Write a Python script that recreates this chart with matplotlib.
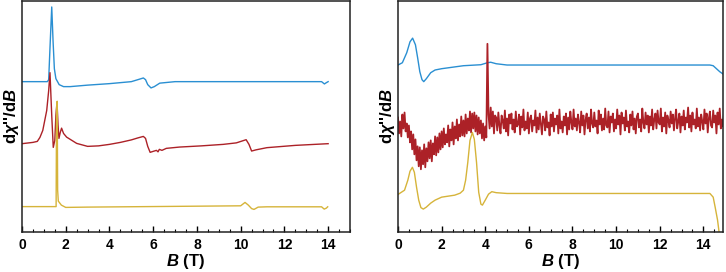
"""
EPR-style derivative spectra, two panels
"""

import numpy as np
import matplotlib
matplotlib.use('Agg')
import matplotlib.pyplot as plt
from matplotlib.ticker import MultipleLocator

# ---- left panel --------------------------------------------------------
l_blue_B = [0, 1.16, 1.22, 1.28, 1.36, 1.42, 1.48, 1.55, 1.7, 1.9, 2.2, 3.0, 4.0, 5.0, 5.3,
            5.55, 5.65, 5.75, 5.9, 6.05, 6.3, 7.0, 13.7, 13.83, 13.92, 14.0]
l_blue_y = [151, 151, 153, 185, 226, 192, 164, 154, 148, 146, 146, 147.5, 149, 151, 153,
            154.7, 153, 148, 144.7, 146, 149.5, 151, 151, 148.7, 150, 151]

l_red_B = [0, 0.5, 0.7, 0.82, 0.95, 1.13, 1.22, 1.28, 1.36, 1.43, 1.5, 1.55, 1.6, 1.65,
           1.69, 1.75, 1.81, 1.9, 2.04, 2.5, 3.0, 3.5, 4.0, 4.5, 5.0, 5.3, 5.55, 5.65,
           5.75, 5.86, 6.0, 6.15, 6.22, 6.28, 6.4, 6.6, 7.2, 8.2, 9.2, 9.8, 10.25, 10.38,
           10.5, 10.7, 11.2, 12.5, 14.0]
l_red_y = [88.7, 90, 91, 95, 102, 122, 142, 160, 117, 85, 92, 117, 130.3, 107,
           94, 100, 104.3, 99, 95.3, 89, 86, 86.5, 88, 90, 92.5, 94.5, 96, 94,
           86, 80, 81, 82, 80.5, 83, 82, 84, 85.3, 86.5, 88, 89.5, 92.7, 88,
           81.3, 82.5, 84.7, 87, 88.7]

l_yel_B = [0, 1.56, 1.58, 1.61, 1.63, 1.66, 1.8, 2.0, 3.0, 10.0, 10.2, 10.35, 10.5, 10.61,
           10.8, 11.2, 13.7, 13.82, 13.92, 13.98]
l_yel_y = [25.5, 25.5, 122, 131.3, 42, 31, 27, 24.7, 25, 26.3, 29.7, 27, 23.5, 22.7,
           25, 25.3, 25.3, 23, 24, 25.3]

# ---- right panel -------------------------------------------------------
r_blue_B = [0, 0.2, 0.4, 0.55, 0.67, 0.8, 0.9, 1.0, 1.1, 1.18, 1.3, 1.5, 1.7, 2.0, 3.0,
            3.8, 3.95, 4.1, 4.25, 4.5, 5.0, 14.3, 14.45, 14.6, 14.75, 14.9]
r_blue_y = [167.7, 170, 180, 191, 194.7, 188, 175, 161, 153, 151, 154, 160, 162.7, 164, 167,
            168, 169, 170, 170.5, 169, 167.7, 167.7, 167, 164, 161, 158.7]

r_yel_B = [0, 0.3, 0.45, 0.55, 0.66, 0.75, 0.85, 0.95, 1.05, 1.16, 1.3, 1.5, 1.7, 2.0, 2.6,
           2.85, 3.0, 3.1, 3.2, 3.3, 3.41, 3.5, 3.6, 3.7, 3.8, 3.87, 4.0, 4.15, 4.3, 4.5,
           5.0, 14.3, 14.45, 14.54, 14.65, 14.72, 14.8]
r_yel_y = [37.7, 42, 52, 61, 65, 60, 45, 32, 24.5, 23, 25, 29, 32, 35, 37,
           39, 42, 52, 70, 92, 100, 93, 70, 40, 28, 27, 32, 38, 40.5, 39.5,
           38.7, 38.7, 35, 25, 12, 0, -20]

# noisy trace, sampled every 0.05 T from 0 T
r_red_y = [115, 99, 111, 96, 118, 104, 120, 101, 109, 95,
           107, 90, 101, 83, 98, 78, 93, 72, 86, 66,
           85, 63, 82, 68, 88, 65, 84, 71, 90, 74,
           92, 71, 89, 78, 96, 77, 95, 80, 99, 83,
           101, 85, 104, 88, 98, 90, 107, 86, 103, 92,
           110, 88, 106, 94, 113, 92, 108, 96, 116, 97,
           112, 96, 118, 99, 114, 102, 121, 100, 119, 104,
           120, 101, 117, 98, 115, 99, 112, 94, 109, 92,
           106, 95, 189, 118, 104, 125, 106, 121, 99, 117,
           115, 102, 120, 107, 99, 117, 112, 104, 122, 101,
           114, 97, 118, 109, 119, 103, 113, 100, 121, 106,
           108, 118, 98, 116, 105, 123, 102, 111, 104, 120,
           99, 114, 117, 101, 112, 107, 122, 100, 115, 103,
           119, 109, 98, 116, 113, 102, 121, 105, 110, 97,
           118, 106, 120, 101, 114, 108, 117, 99, 123, 104,
           111, 100, 116, 107, 119, 98, 115, 103, 121, 110,
           103, 123, 106, 114, 102, 118, 110, 100, 121, 107,
           117, 98, 113, 119, 104, 115, 101, 123, 109, 105,
           120, 106, 112, 99, 122, 108, 118, 102, 114, 103,
           124, 107, 105, 121, 100, 116, 110, 119, 101, 113,
           104, 123, 108, 117, 98, 120, 109, 115, 102, 122,
           106, 111, 100, 118, 107, 121, 103, 114, 99, 116,
           119, 105, 113, 101, 124, 110, 104, 120, 108, 117,
           100, 116, 107, 123, 103, 113, 119, 104, 122, 110,
           108, 124, 101, 115, 106, 120, 99, 117, 112, 105,
           121, 109, 118, 102, 114, 123, 104, 111, 119, 100,
           116, 107, 122, 103, 115, 110, 125, 105, 117, 101,
           120, 108, 113, 104, 124, 106, 115, 102, 118, 111,
           103, 123, 109, 119, 100, 114, 121, 107, 105, 122,
           110, 117, 99, 120, 108, 124, 104, 113, 106, 121]
r_red_B = np.arange(len(r_red_y)) * 0.05

BLUE = '#2a8fd2'
RED = '#ac2127'
YEL = '#d6b43a'

if __name__ == '__main__':
    plt.rcParams['font.family'] = ['Liberation Sans', 'DejaVu Sans']
    plt.rcParams['font.weight'] = 'bold'
    plt.rcParams['mathtext.fontset'] = 'custom'
    plt.rcParams['mathtext.rm'] = 'Liberation Sans:bold'
    plt.rcParams['mathtext.it'] = 'Liberation Sans:bold:italic'

    fig = plt.figure(figsize=(7.26, 2.72), dpi=100)
    ax1 = fig.add_axes([22/726, 40/272, 328/726, 231/272])
    ax2 = fig.add_axes([398/726, 40/272, 325/726, 231/272])

    ax1.plot(l_blue_B, l_blue_y, color=BLUE, lw=1.0)
    ax1.plot(l_red_B, l_red_y, color=RED, lw=1.0)
    ax1.plot(l_yel_B, l_yel_y, color=YEL, lw=1.0)

    ax2.plot(r_blue_B, r_blue_y, color=BLUE, lw=1.0)
    ax2.plot(r_red_B, r_red_y, color=RED, lw=1.3)
    ax2.plot(r_yel_B, r_yel_y, color=YEL, lw=1.0)

    for ax, xmax in [(ax1, 15.0), (ax2, 14.9)]:
        ax.set_xlim(0, xmax)
        ax.set_ylim(0, 232)
        ax.set_yticks([])
        ax.xaxis.set_major_locator(MultipleLocator(2))
        ax.xaxis.set_minor_locator(MultipleLocator(0.5))
        ax.tick_params(axis='x', which='major', direction='in', length=4, width=1,
                       labelsize=10, pad=4)
        ax.tick_params(axis='x', which='minor', direction='in', length=2, width=0.8)
        for sp in ax.spines.values():
            sp.set_linewidth(1.1)
            sp.set_color('#222222')
        ax.set_xlabel(r'$B$ (T)', fontsize=12, fontweight='bold', labelpad=0)
        ax.set_ylabel(r"d$\chi$''/d$B$", fontsize=12, fontweight='bold', labelpad=1)

    fig.savefig('out.png', dpi=100)
